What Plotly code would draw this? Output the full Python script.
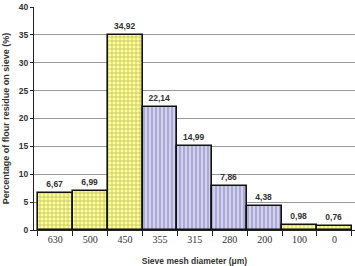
import plotly.graph_objects as go

categories = ["630", "500", "450", "355", "315", "280", "200", "100", "0"]
values = [6.67, 6.99, 34.92, 22.14, 14.99, 7.86, 4.38, 0.98, 0.76]
groups = ["y", "y", "y", "b", "b", "b", "b", "y", "y"]
y_ticks = [0, 5, 10, 15, 20, 25, 30, 35, 40]

fill = {"y": "#FFFF8C", "b": "#CFCFF7"}
fg = {"y": "#E0E040", "b": "#9A9ADC"}
shape = {"y": "+", "b": "|"}

fig = go.Figure(go.Bar(
    x=categories, y=values,
    marker=dict(
        color=[fill[g] for g in groups],
        line=dict(color="#111111", width=1.6),
        pattern=dict(shape=[shape[g] for g in groups],
                     fgcolor=[fg[g] for g in groups],
                     bgcolor=[fill[g] for g in groups],
                     size=4, solidity=0.25),
    ),
    texttemplate="%{y:.2f}", textposition="outside",
    textfont=dict(family="Arial", size=8.5, color="#333333", weight="bold"),
    cliponaxis=False,
))

fig.update_layout(
    width=355, height=266,
    margin=dict(l=34, r=0, t=7, b=36),
    paper_bgcolor="white", plot_bgcolor="white",
    bargap=0, separators=",.",
    showlegend=False,
    xaxis=dict(
        type="category", range=[-0.61, 8.59],
        showline=True, linecolor="#222222", linewidth=1,
        ticks="outside", tickson="boundaries", ticklen=5, tickcolor="#222222",
        tickfont=dict(family="Liberation Serif", size=10, color="#333333"),
        title=dict(text="Sieve mesh diameter (μm)", standoff=14,
                   font=dict(family="Arial", size=8.5, color="#333333", weight="bold")),
    ),
    yaxis=dict(
        range=[0, 40], tickvals=y_ticks,
        showline=True, linecolor="#222222", linewidth=1,
        ticks="outside", ticklen=3, tickcolor="#222222",
        showgrid=True, gridcolor="#999999", gridwidth=1,
        zeroline=False,
        tickfont=dict(family="Arial", size=8.5, color="#333333", weight="bold"),
        title=dict(text="Percentage of flour residue on sieve (%)", standoff=7,
                   font=dict(family="Arial", size=9, color="#333333", weight="bold")),
    ),
)

fig.write_html("out.html")
